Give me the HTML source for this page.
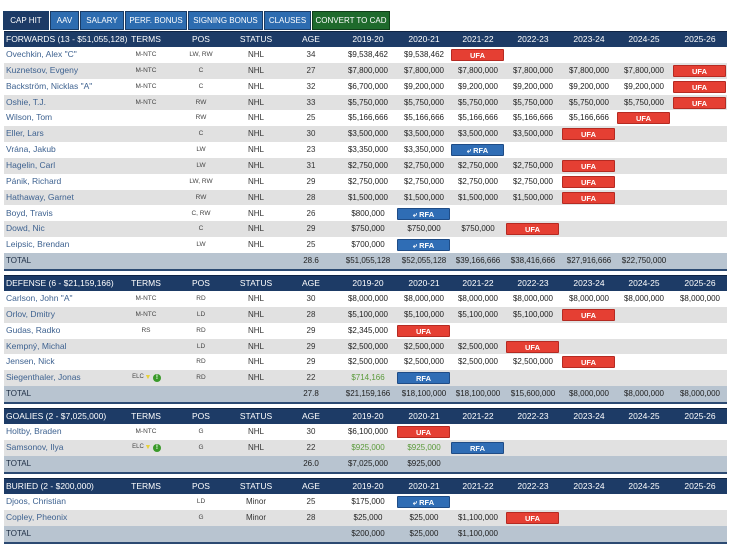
<!DOCTYPE html>
<html><head><meta charset="utf-8">
<style>
body{margin:0;width:730px;height:553px;background:#fff;font-family:"Liberation Sans",sans-serif;position:relative;overflow:hidden}
.a{position:absolute;white-space:nowrap}
.tab{position:absolute;top:11px;height:19px;background:#2d6cb0;border:1px solid #1a3c66;box-sizing:border-box;color:#fff;font-size:8px;line-height:17px;text-align:center}
.hdr{position:absolute;left:4px;width:723px;height:16px;background:#1d3b66;border-top:1px solid #0f2444}
.row{position:absolute;left:4px;width:723px}
.c{position:absolute;top:0;text-align:center;font-size:8px;white-space:nowrap}
.badge{position:absolute;height:12px;border-radius:1px;color:#fff;font-weight:bold;font-size:7.5px;line-height:12px;text-align:center}
.ufa{background:#e53f33;border:1px solid #b52a22;box-sizing:border-box}
.rfa{background:#2f6db5;border:1px solid #1f4c86;box-sizing:border-box}
</style></head><body>
<div class="tab" style="left:3px;width:46px;background:#1d3b66">CAP HIT</div>
<div class="tab" style="left:50px;width:29px">AAV</div>
<div class="tab" style="left:80px;width:44px">SALARY</div>
<div class="tab" style="left:125px;width:62px">PERF. BONUS</div>
<div class="tab" style="left:188px;width:75px">SIGNING BONUS</div>
<div class="tab" style="left:264px;width:47px">CLAUSES</div>
<div class="tab" style="left:312px;width:78px;background:#1e6a2c;border-color:#0f3d18">CONVERT TO CAD</div>
<div id="t"></div>
<script>
const seasons=["2019-20","2020-21","2021-22","2022-23","2023-24","2024-25","2025-26"];
const sectionTitles=["FORWARDS (13 - $51,055,128)","DEFENSE (6 - $21,159,166)","GOALIES (2 - $7,025,000)","BURIED (2 - $200,000)"];
const fwdPlayers=[
["Ovechkin, Alex \"C\"","M-NTC","LW, RW","NHL","34",["$9,538,462","$9,538,462","UFA"]],
["Kuznetsov, Evgeny","M-NTC","C","NHL","27",["$7,800,000","$7,800,000","$7,800,000","$7,800,000","$7,800,000","$7,800,000","UFA"]],
["Backström, Nicklas \"A\"","M-NTC","C","NHL","32",["$6,700,000","$9,200,000","$9,200,000","$9,200,000","$9,200,000","$9,200,000","UFA"]],
["Oshie, T.J.","M-NTC","RW","NHL","33",["$5,750,000","$5,750,000","$5,750,000","$5,750,000","$5,750,000","$5,750,000","UFA"]],
["Wilson, Tom","","RW","NHL","25",["$5,166,666","$5,166,666","$5,166,666","$5,166,666","$5,166,666","UFA"]],
["Eller, Lars","","C","NHL","30",["$3,500,000","$3,500,000","$3,500,000","$3,500,000","UFA"]],
["Vrána, Jakub","","LW","NHL","23",["$3,350,000","$3,350,000","RFA"]],
["Hagelin, Carl","","LW","NHL","31",["$2,750,000","$2,750,000","$2,750,000","$2,750,000","UFA"]],
["Pánik, Richard","","LW, RW","NHL","29",["$2,750,000","$2,750,000","$2,750,000","$2,750,000","UFA"]],
["Hathaway, Garnet","","RW","NHL","28",["$1,500,000","$1,500,000","$1,500,000","$1,500,000","UFA"]],
["Boyd, Travis","","C, RW","NHL","26",["$800,000","RFA"]],
["Dowd, Nic","","C","NHL","29",["$750,000","$750,000","$750,000","UFA"]],
["Leipsic, Brendan","","LW","NHL","25",["$700,000","RFA"]]];
const fwdTotal=["28.6",["$51,055,128","$52,055,128","$39,166,666","$38,416,666","$27,916,666","$22,750,000",""]];
const defPlayers=[
["Carlson, John \"A\"","M-NTC","RD","NHL","30",["$8,000,000","$8,000,000","$8,000,000","$8,000,000","$8,000,000","$8,000,000","$8,000,000"]],
["Orlov, Dmitry","M-NTC","LD","NHL","28",["$5,100,000","$5,100,000","$5,100,000","$5,100,000","UFA"]],
["Gudas, Radko","RS","RD","NHL","29",["$2,345,000","UFA"]],
["Kempný, Michal","","LD","NHL","29",["$2,500,000","$2,500,000","$2,500,000","UFA"]],
["Jensen, Nick","","RD","NHL","29",["$2,500,000","$2,500,000","$2,500,000","$2,500,000","UFA"]],
["Siegenthaler, Jonas","ELC","RD","NHL","22",["$714,166","RFA"]]];
const defTotal=["27.8",["$21,159,166","$18,100,000","$18,100,000","$15,600,000","$8,000,000","$8,000,000","$8,000,000"]];
const goaPlayers=[
["Holtby, Braden","M-NTC","G","NHL","30",["$6,100,000","UFA"]],
["Samsonov, Ilya","ELC","G","NHL","22",["$925,000","$925,000","RFA"]]];
const goaTotal=["26.0",["$7,025,000","$925,000"]];
const burPlayers=[
["Djoos, Christian","","LD","Minor","25",["$175,000","RFA"]],
["Copley, Pheonix","","G","Minor","28",["$25,000","$25,000","$1,100,000","UFA"]]];
const burTotal=["",["$200,000","$25,000","$1,100,000"]];

const sections=[[fwdPlayers,fwdTotal,31],[defPlayers,defTotal,275],[goaPlayers,goaTotal,408],[burPlayers,burTotal,478]];
const cx=[142,197,252,307,364,420,474,529,585,640,696];
const RH=15.85;
const T=document.getElementById('t');
function cell(parent,txt,center,w,lh,style){
  const d=document.createElement('div');d.className='c';
  d.style.left=(center-w/2)+'px';d.style.width=w+'px';d.style.height=lh+'px';d.style.lineHeight=lh+'px';
  d.textContent=txt;
  if(style)Object.assign(d.style,style);
  
  
  parent.appendChild(d);return d;
}
sections.forEach((s,si)=>{
  const [players,total,top]=s;
  const h=document.createElement('div');h.className='hdr';h.style.top=top+'px';
  
  
  T.appendChild(h);
  const hs={color:'#fff',fontSize:'8.5px'};
  const ti=document.createElement('div');ti.className='a';ti.textContent=sectionTitles[si];
  Object.assign(ti.style,{left:'2px',top:'0',color:'#fff',fontSize:'8.5px',lineHeight:'15px'});
  
  
  h.appendChild(ti);
  ["TERMS","POS","STATUS","AGE"].concat(seasons).forEach((t,i)=>cell(h,t,cx[i],54,15,hs));
  let y=top+16;
  const isGreen=(p,j)=>p[1]==="ELC"&&p[5][j]&&p[5][j][0]==='$';
  players.forEach((p,ri)=>{
    const r=document.createElement('div');r.className='row';
    r.style.top=y+'px';r.style.height=RH+'px';
    r.style.background=ri%2?'#e1e1e1':'#fff';
    
    
    T.appendChild(r);
    const n=document.createElement('div');n.className='a';n.textContent=p[0];
    Object.assign(n.style,{left:'2px',top:'0',color:'#3e6290',fontSize:'8.5px',lineHeight:RH+'px'});
    
    
    r.appendChild(n);
    if(p[1]==="ELC"){
      cell(r,"ELC",cx[0]-8,20,RH,{fontSize:'6px',color:'#444'});
      cell(r,"▼",cx[0]+2,8,RH,{fontSize:'7px',color:'#e8d23a'});
      cell(r,"!",cx[0]+11,8,8,{fontSize:'6.5px',color:'#fff',background:'#3a9a2a',borderRadius:'50%',top:'4px',fontWeight:'bold'});
    } else cell(r,p[1],cx[0],50,RH,{fontSize:'6.5px',color:'#444'});
    cell(r,p[2],cx[1],40,RH,{fontSize:'6.5px',color:'#444'});
    cell(r,p[3],cx[2],40,RH,{color:'#333'});
    cell(r,p[4],cx[3],40,RH,{color:'#333'});
    p[5].forEach((v,j)=>{
      const c=cx[4+j];
      if(v==="UFA"||v==="RFA"){
        const b=document.createElement('div');b.className='badge '+v.toLowerCase();
        b.style.left=(c-27)+'px';b.style.width='53px';b.style.top='2px';
        b.textContent=(v==="RFA"&&p[1]!=="ELC"?"⤶ ":"")+v;
        
        
        r.appendChild(b);
      } else cell(r,v,c,54,RH,{color:isGreen(p,j)?'#5a9a3a':'#222'});
    });
    y+=RH;
  });
  const tr=document.createElement('div');tr.className='row';
  tr.style.top=y+'px';tr.style.height='16px';
  tr.style.background='#b8c4d0';tr.style.borderBottom='2px solid #2c4a72';
  
  
  T.appendChild(tr);
  const tl=document.createElement('div');tl.className='a';tl.textContent='TOTAL';
  Object.assign(tl.style,{left:'2px',top:'0',fontSize:'8px',color:'#1d2d44',lineHeight:'16px'});
  
  
  tr.appendChild(tl);
  cell(tr,total[0],cx[3],40,16,{color:'#222'});
  total[1].forEach((v,j)=>cell(tr,v,cx[4+j],54,16,{color:'#222'}));
});
</script>
</body></html>
